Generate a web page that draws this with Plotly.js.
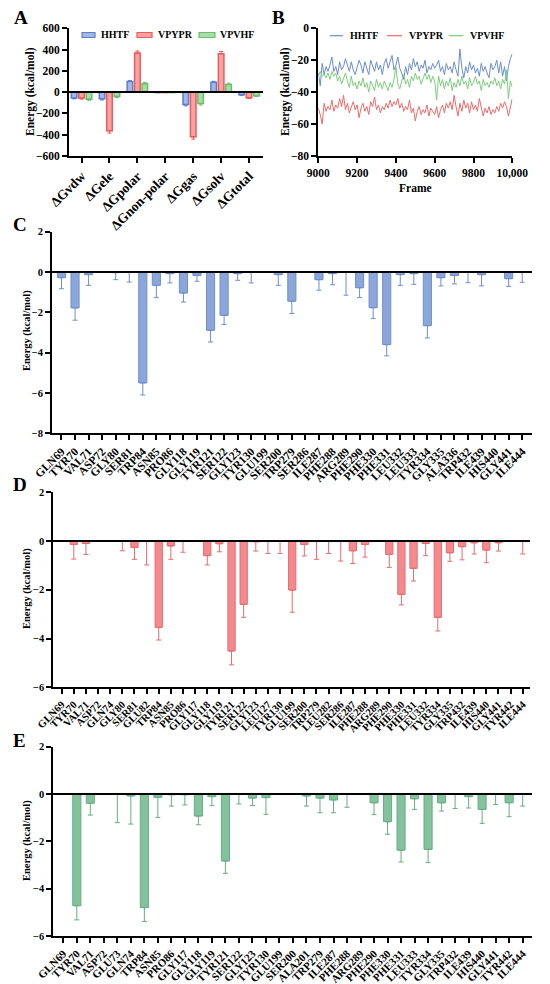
<!DOCTYPE html>
<html><head><meta charset="utf-8">
<script src="https://cdn.plot.ly/plotly-3.0.1.min.js"></script>
<style>body{margin:0;background:#fff}#chart{width:550px;height:984px}</style>
</head><body><div id="chart"></div>
<script>
// ---------- Panel A data ----------
const aCats = ['ΔGvdw','ΔGele','ΔGpolar','ΔGnon-polar','ΔGgas','ΔGsolv','ΔGtotal'];
const aSeries = ['HHTF', 'VPYPR', 'VPVHF'];
const aHHTF  = [-55, -62, 100, -4, -117, 92, -25];
const aVPYPR = [-56, -363, 367, -4, -419, 362, -52];
const aVPVHF = [-66, -40, 80, -4, -106, 72, -34];
const aHHTFerr  = [8, 12, 10, 1, 12, 10, 6];
const aVPYPRerr = [10, 22, 20, 1, 22, 20, 8];
const aVPVHFerr = [10, 10, 12, 1, 15, 12, 7];

// ---------- Panel B data ----------
const bFrames = [];
for (let f = 9000; f <= 10000; f += 10) bFrames.push(f);
const bHHTF = [-28,-36,-22,-29,-24,-27,-23,-18,-27,-24,-29,-21,-26,-24,-19,-23,-27,-21,-26,-29,-24,-20,-23,-28,-21,-25,-29,-20,-24,-27,-21,-26,-23,-29,-22,-19,-25,-21,-17,-26,-23,-18,-25,-28,-32,-24,-29,-22,-26,-19,-24,-21,-27,-23,-25,-20,-28,-24,-26,-22,-25,-23,-20,-27,-24,-29,-22,-26,-24,-28,-21,-26,-30,-13,-25,-31,-24,-28,-21,-26,-23,-28,-25,-30,-22,-27,-24,-28,-31,-22,-26,-24,-20,-28,-21,-30,-24,-33,-24,-19,-16];
const bVPYPR = [-50,-54,-60,-47,-52,-49,-51,-45,-52,-48,-50,-44,-49,-42,-51,-47,-53,-49,-46,-51,-48,-56,-50,-47,-52,-49,-54,-46,-49,-43,-51,-48,-53,-49,-51,-47,-50,-45,-49,-46,-48,-44,-50,-47,-52,-49,-51,-45,-53,-50,-58,-52,-49,-54,-51,-53,-48,-55,-50,-52,-54,-49,-56,-51,-48,-53,-47,-50,-46,-51,-42,-49,-55,-47,-52,-45,-50,-47,-53,-46,-51,-48,-52,-44,-49,-55,-50,-53,-49,-54,-51,-53,-49,-52,-47,-50,-46,-49,-55,-50,-44];
const bVPVHF = [-30,-27,-30,-29,-31,-28,-32,-27,-30,-28,-33,-30,-35,-31,-28,-33,-37,-30,-36,-34,-38,-33,-36,-31,-37,-34,-40,-33,-36,-39,-32,-37,-34,-38,-33,-36,-39,-34,-37,-32,-24,-35,-38,-33,-29,-35,-32,-37,-30,-33,-28,-32,-30,-35,-31,-28,-32,-29,-34,-30,-33,-45,-30,-36,-32,-38,-33,-36,-31,-39,-34,-37,-32,-36,-30,-35,-33,-38,-31,-36,-34,-30,-35,-33,-39,-32,-36,-34,-37,-33,-35,-31,-36,-33,-38,-32,-35,-26,-44,-33,-37];
const bTickVals = [9000, 9200, 9400, 9600, 9800, 10000];
const bTickText = ['9000', '9200', '9400', '9600', '9800', '10,000'];

// ---------- Panel C data (HHTF) ----------
const cRes = ['GLN69','TYR70','VAL71','ASP72','GLY80','SER81','TRP84','ASN85','PRO86','GLY118','GLY119','TYR121','SER122','GLY123','TYR130','GLU199','SER200','TRP279','SER286','ILE287','PHE288','ARG289','PHE290','PHE330','PHE331','LEU332','LEU333','TYR334','GLY335','ALA336','TRP432','ILE439','HIS440','GLY441','ILE444'];
const cVal = [-0.28,-1.78,-0.13,0,-0.03,-0.02,-5.5,-0.66,-0.08,-1.04,-0.17,-2.89,-2.15,-0.08,-0.02,0,-0.13,-1.45,0,-0.38,-0.08,0,-0.78,-1.77,-3.6,-0.13,-0.08,-2.66,-0.28,-0.17,-0.02,-0.13,0,-0.33,-0.02];
const cErr = [0.55,0.61,0.53,0,0.35,0.48,0.6,0.61,0.46,0.45,0.29,0.58,0.45,0.33,0.52,0,0.53,0.61,0,0.52,0.55,1.15,0.49,0.54,0.56,0.53,0.53,0.61,0.41,0.42,0.51,0.56,0,0.38,0.49];

// ---------- Panel D data (VPYPR) ----------
const dRes = ['GLN69','TYR70','VAL71','ASP72','GLN74','GLY80','SER81','GLU82','TRP84','ASN85','PRO86','GLY117','GLY118','GLY119','TYR121','SER122','GLY123','LEU127','TYR130','GLU199','SER200','TRP279','LEU282','SER286','ILE287','PHE288','ARG289','PHE290','PHE330','PHE331','LEU332','TYR334','GLY335','TRP432','ILE439','HIS440','GLY441','TYR442','ILE444'];
const dVal = [0,-0.14,-0.1,0,0,-0.01,-0.26,-0.01,-3.54,-0.2,-0.01,0,-0.6,-0.11,-4.51,-2.6,-0.03,-0.01,-0.01,-2.01,-0.14,-0.01,-0.01,-0.01,-0.4,-0.14,0,-0.55,-2.19,-1.12,-0.1,-3.13,-0.48,-0.23,-0.07,-0.37,-0.07,0,-0.01];
const dErr = [0,0.6,0.45,0,0,0.39,0.49,0.97,0.52,0.55,0.45,0,0.38,0.33,0.57,0.53,0.38,0.5,0.5,0.91,0.47,0.74,0.5,0.81,0.52,0.52,0,0.53,0.43,0.52,0.5,0.56,0.35,0.54,0.46,0.52,0.34,0,0.52];

// ---------- Panel E data (VPVHF) ----------
const eRes = ['GLN69','TYR70','VAL71','ASP72','GLU73','GLN74','TRP84','ASN85','PRO86','GLY117','GLY118','GLY119','TYR121','SER122','GLY123','TYR130','GLU199','SER200','ALA201','TRP279','ILE287','PHE288','ARG289','PHE290','PHE330','PHE331','LEU333','TYR334','GLY335','TRP432','ILE439','HIS440','GLY441','TYR442','ILE444'];
const eVal = [0,-4.72,-0.39,0,-0.01,-0.08,-4.8,-0.14,-0.03,-0.03,-0.93,-0.11,-2.83,-0.01,-0.17,-0.15,0,0,-0.08,-0.17,-0.25,-0.01,0,-0.37,-1.17,-2.37,-0.2,-2.34,-0.37,-0.01,-0.11,-0.65,-0.01,-0.37,-0.01];
const eErr = [0,0.6,0.5,0,1.2,1.19,0.59,0.85,0.48,0.43,0.37,0.38,0.52,0.41,0.32,0.71,0,0,0.43,0.62,0.54,0.55,0,0.5,0.53,0.5,0.45,0.56,0.35,0.6,0.48,0.59,0.43,0.59,0.5];

// ---------- styling ----------
const FONT = '"Liberation Serif", "Times New Roman", serif';
const W = 550, H = 984;
const px = v => v / W;
const py = v => 1 - v / H;
const BLUE = {fill:'#a3b7e3', line:'#5d80c8'};
const RED = {fill:'#f8a3a3', line:'#ec5b5b'};
const GREEN = {fill:'#a9dca9', line:'#69c06c'};
const LINECOLORS = ['#6a8dd0', '#f06a6a', '#7ccf7c'];
const YTITLE = 'Energy (kcal/mol)';

function plus(v, e) { return v.map((x, i) => x > 0 ? e[i] : 0); }
function minus(v, e) { return v.map((x, i) => x <= 0 ? e[i] : 0); }

function aBar(name, vals, errs, col) {
  return {type:'bar', name, x:aCats, y:vals, xaxis:'x', yaxis:'y', showlegend:false,
    marker:{color:col.fill, line:{color:col.line, width:1.5}},
    error_y:{type:'data', symmetric:false, array:plus(vals, errs), arrayminus:minus(vals, errs), color:col.line, thickness:1, width:2}};
}
function bLine(name, vals, color) {
  return {type:'scatter', mode:'lines', name, x:bFrames, y:vals, xaxis:'x2', yaxis:'y2', showlegend:false,
    line:{color, width:1}};
}
function resBar(res, vals, errs, fill, line, ax) {
  return {type:'bar', x:res, y:vals, xaxis:'x'+ax, yaxis:'y'+ax, showlegend:false, width:0.6,
    marker:{color:fill, line:{color:line, width:1}},
    error_y:{type:'data', symmetric:false, array:plus(vals, errs), arrayminus:minus(vals, errs), color:line, thickness:1, width:2.5}};
}

const traces = [
  aBar(aSeries[0], aHHTF, aHHTFerr, BLUE),
  aBar(aSeries[1], aVPYPR, aVPYPRerr, RED),
  aBar(aSeries[2], aVPVHF, aVPVHFerr, GREEN),
  bLine(aSeries[0], bHHTF, LINECOLORS[0]),
  bLine(aSeries[1], bVPYPR, LINECOLORS[1]),
  bLine(aSeries[2], bVPVHF, LINECOLORS[2]),
  resBar(cRes, cVal, cErr, '#8da6d9', '#6d8fcf', 3),
  resBar(dRes, dVal, dErr, '#f58a8e', '#e86a70', 4),
  resBar(eRes, eVal, eErr, '#84c29e', '#66ad84', 5)
];

const tickF = s => ({family:FONT, size:s, color:'#000', weight:'bold'});
const titleF = s => ({family:FONT, size:s, color:'#000', weight:'bold'});

function xCat(domain, anchor, range, fs, cats) {
  return {domain, anchor, type:'category', range, tickmode:'array', tickvals:cats, ticktext:cats,
    showline:true, linecolor:'#000', linewidth:2,
    ticks:'outside', ticklen:5, tickwidth:2, tickcolor:'#000', tickangle:-45, tickfont:tickF(fs),
    showgrid:false, zeroline:false, fixedrange:true};
}
function yNum(domain, anchor, range, dtick, fs) {
  return {domain, anchor, range, dtick, showline:true, linecolor:'#000', linewidth:2,
    ticks:'outside', ticklen:5, tickwidth:2, tickcolor:'#000', tickfont:tickF(fs),
    showgrid:false, zeroline:true, zerolinecolor:'#000', zerolinewidth:2, zerolinelayer:'above traces'};
}

// legend keys (paper-space decoration)
const legY_A = 35, legY_B = 35.7;
const legA = [{x0:82, x1:95, tx:99}, {x0:137, x1:152, tx:156}, {x0:199, x1:215, tx:218}];
const legB = [{x0:330, x1:343, tx:348}, {x0:387, x1:402, tx:407}, {x0:449, x1:463, tx:468}];
const cols = [BLUE, RED, GREEN];
const shapes = [];
const annotations = [];
legA.forEach((l, i) => {
  shapes.push({type:'rect', xref:'paper', yref:'paper', x0:px(l.x0), x1:px(l.x1), y0:py(legY_A+2.5), y1:py(legY_A-2.5),
    fillcolor:cols[i].fill, line:{color:cols[i].line, width:1.2}});
  annotations.push({text:aSeries[i], x:px(l.tx), y:py(legY_A), xref:'paper', yref:'paper', xanchor:'left', yanchor:'middle',
    showarrow:false, font:{family:FONT, size:10, weight:'bold', color:'#000'}});
});
legB.forEach((l, i) => {
  shapes.push({type:'line', xref:'paper', yref:'paper', x0:px(l.x0), x1:px(l.x1), y0:py(legY_B), y1:py(legY_B),
    line:{color:LINECOLORS[i], width:1.2}});
  annotations.push({text:aSeries[i], x:px(l.tx), y:py(legY_B), xref:'paper', yref:'paper', xanchor:'left', yanchor:'middle',
    showarrow:false, font:{family:FONT, size:10, weight:'bold', color:'#000'}});
});
// y-axis titles
[[30, 92, 11.5], [285, 92, 11.5], [27, 331, 10.5], [27, 589, 10.5], [27, 841, 10.5]].forEach(([x, y, s]) => {
  annotations.push({text:YTITLE, x:px(x), y:py(y), xref:'paper', yref:'paper', xanchor:'center', yanchor:'middle',
    textangle:-90, showarrow:false, font:titleF(s)});
});
// panel letters
[['A',12,17],['B',270,17],['C',11,224],['D',11,484],['E',11,740]].forEach(([t,x,y]) => {
  annotations.push({text:t, x:px(x), y:py(y), xref:'paper', yref:'paper', xanchor:'left', yanchor:'middle',
    showarrow:false, font:{family:FONT, size:19, weight:'bold', color:'#000'}});
});

const layout = {
  width:W, height:H, margin:{l:0, r:0, t:0, b:0},
  paper_bgcolor:'#fff', plot_bgcolor:'rgba(0,0,0,0)',
  font:{family:FONT, color:'#000'},
  showlegend:false,
  barmode:'group', bargap:0.2, bargroupgap:0.25,
  // A
  xaxis: xCat([px(69), px(263)], 'y', [-0.45, 6.5], 13.5, aCats),
  yaxis: yNum([py(156), py(28.3)], 'x', [-600, 600], 200, 11.5),
  // B
  xaxis2: {domain:[px(318.3), px(512.3)], anchor:'y2', range:[9000, 10000], tickmode:'array', tickvals:bTickVals, ticktext:bTickText,
    showline:true, linecolor:'#000', linewidth:2, ticks:'outside', ticklen:5, tickwidth:2, tickcolor:'#000',
    tickfont:tickF(11.5), showgrid:false, zeroline:false,
    title:{text:'Frame', font:titleF(11.5), standoff:6}},
  yaxis2: Object.assign(yNum([py(156), py(28.3)], 'x2', [-80, 0], 20, 11.5), {zeroline:false}),
  // C
  xaxis3: xCat([px(52), px(531.7)], 'y3', [-0.7, 34.7], 11.5, cRes),
  yaxis3: yNum([py(433.3), py(231.7)], 'x3', [-8, 2], 2, 10.5),
  // D
  xaxis4: xCat([px(53.3), px(530)], 'y4', [-0.69, 38.6], 10.5, dRes),
  yaxis4: yNum([py(687.3), py(492.3)], 'x4', [-6, 2], 2, 10.5),
  // E
  xaxis5: xCat([px(53.3), px(531.7)], 'y5', [-0.74, 34.67], 11, eRes),
  yaxis5: yNum([py(936), py(746.7)], 'x5', [-6, 2], 2, 10.5),
  shapes, annotations
};

Plotly.newPlot('chart', traces, layout, {staticPlot:true, displayModeBar:false});
</script></body></html>
